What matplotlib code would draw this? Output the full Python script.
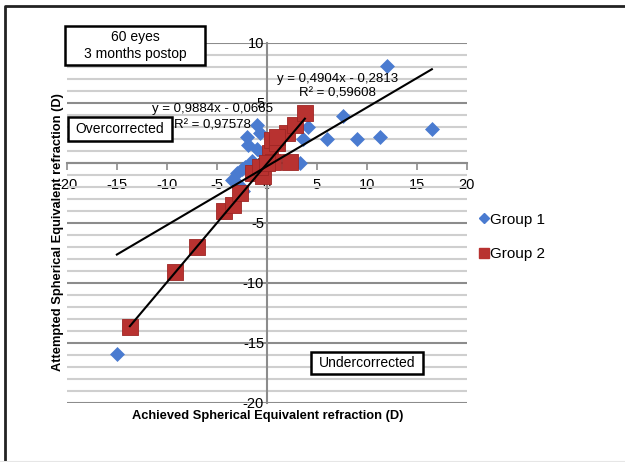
import numpy as np
import matplotlib
matplotlib.use("Agg")
import matplotlib.pyplot as plt
from matplotlib.patches import Rectangle
from matplotlib.lines import Line2D

plt.rcParams['font.family'] = ['Liberation Sans', 'DejaVu Sans']
plt.rcParams['axes.unicode_minus'] = False

# Group 1 (blue diamonds): achieved vs attempted SE
g1_x = [12.0, 7.6, 16.5, 6.0, 9.0, 11.3, 4.1, 3.6, 3.3, -15.0,
        -1.0, -0.7, -2.0, -1.9, -1.0, -0.5, -2.5, -3.0, -3.5, -2.4,
        -2.8, -1.5, -2.2]
g1_y = [8.1, 3.9, 2.8, 2.0, 2.0, 2.2, 3.0, 2.0, 0.0, -15.9,
        3.2, 2.5, 2.2, 1.5, 1.2, 0.8, -0.5, -0.8, -1.4, -2.3,
        -1.8, 0.2, -0.3]

# Group 2 (red squares)
g2_x = [-13.7, -9.2, -7.0, -4.3, -3.4, -2.7, -1.4, -0.4, -0.7, 0.3,
        0.5, 0.6, 1.0, 2.0, 2.3, 2.8, 3.8, 1.0, 0.0]
g2_y = [-13.7, -9.1, -7.0, -4.0, -3.5, -2.5, -0.8, -1.1, -0.3, 0.8,
        1.9, 0.1, 1.7, 2.5, 0.1, 3.2, 4.2, 2.2, 0.0]

# trendlines as printed on the chart
g1_slope, g1_icpt, g1_r2 = 0.4904, -0.2813, "0,59608"
g2_slope, g2_icpt, g2_r2 = 0.9884, -0.0665, "0,97578"

blue = '#4a7bd0'
red = '#b83230'

fig = plt.figure(figsize=(6.25, 4.62), dpi=100)
ax = fig.add_axes([0.107, 0.128, 0.640, 0.779])

ax.set_xlim(-20, 20)
ax.set_ylim(-20, 10)

ax.scatter(g1_x, g1_y, marker='D', s=58, color=blue, zorder=3, linewidths=0)
ax.scatter(g2_x, g2_y, marker='s', s=125, color=red, zorder=4,
           edgecolors='#9e2624', linewidths=0.6)

for xs, m, b in [(g1_x, g1_slope, g1_icpt), (g2_x, g2_slope, g2_icpt)]:
    xx = np.array([min(xs), max(xs)])
    ax.plot(xx, m * xx + b, color='black', lw=1.5, zorder=5)

# axes through the origin
for s in ['top', 'right']:
    ax.spines[s].set_visible(False)
ax.spines['left'].set_position(('data', 0))
ax.spines['bottom'].set_position(('data', 0))
ax.spines['left'].set_color('#8c8c8c')
ax.spines['bottom'].set_color('#8c8c8c')
ax.spines['left'].set_linewidth(1.5)
ax.spines['bottom'].set_linewidth(1.5)

ax.set_xticks(np.arange(-20, 21, 5))
ax.set_yticks(np.arange(-20, 11, 5))
ax.set_yticks(np.arange(-20, 11, 1), minor=True)
ax.tick_params(axis='x', which='major', length=5, width=1.2, color='#8c8c8c',
               labelsize=10.5, pad=6)
ax.tick_params(axis='y', which='both', length=0, labelsize=10.5, pad=2)
ax.grid(True, axis='y', which='major', color='#8c8c8c', lw=1.5, zorder=0)
ax.grid(True, axis='y', which='minor', color='#cfcfcf', lw=1.5, zorder=0)
ax.set_axisbelow(True)

fig.text(0.428, 0.099, 'Achieved Spherical Equivalent refraction (D)',
         fontsize=9.3, fontweight='bold', ha='center', va='center')
fig.text(0.093, 0.498, 'Attempted Spherical Equivalent refraction (D)',
         fontsize=9.3, fontweight='bold', ha='center', va='center', rotation=90)

# trendline equations
ax.text(7.1, 7.0, 'y = 0,4904x - 0,2813', fontsize=9.5, ha='center', va='center', zorder=6)
ax.text(7.1, 5.75, 'R² = ' + g1_r2, fontsize=9.5, ha='center', va='center', zorder=6)
ax.text(-5.4, 4.5, 'y = 0,9884x - 0,0665', fontsize=9.5, ha='center', va='center', zorder=6)
ax.text(-5.4, 3.1, 'R² = ' + g2_r2, fontsize=9.5, ha='center', va='center', zorder=6)

# annotation boxes (figure pixel coords -> fractions)
W, H = 625.0, 462.0
for (x0, y0, x1, y1), label in [((65, 26, 205, 65), '60 eyes\n3 months postop'),
                                ((68, 117, 172, 141), 'Overcorrected'),
                                ((311, 352, 423, 374), 'Undercorrected')]:
    fig.add_artist(Rectangle((x0 / W, 1 - y1 / H), (x1 - x0) / W, (y1 - y0) / H,
                             transform=fig.transFigure, fc='white', ec='black',
                             lw=1.8, zorder=7))
    fig.text((x0 + x1) / 2 / W, 1 - (y0 + y1) / 2 / H, label, fontsize=10,
             ha='center', va='center', linespacing=1.3, zorder=8)

handles = [Line2D([], [], marker='D', ls='', color=blue, markersize=5),
           Line2D([], [], marker='s', ls='', color=red, markersize=7)]
fig.legend(handles, ['Group 1', 'Group 2'], loc='center left',
           bbox_to_anchor=(0.745, 0.487), frameon=False, fontsize=11,
           handlelength=0.6, handletextpad=0.1, labelspacing=1.35)

# outer frame: only top and left edges are visible (cropped screenshot)
fig.add_artist(Line2D([5 / W, 5 / W, 1.0], [0.0, 1 - 6 / H, 1 - 6 / H],
                      transform=fig.transFigure, color='#222222', lw=2))
fig.add_artist(Line2D([0.0, 1.0], [0.5 / H, 0.5 / H], transform=fig.transFigure,
                      color='#e6e6e6', lw=1.5))

fig.savefig('out.png', dpi=100)
